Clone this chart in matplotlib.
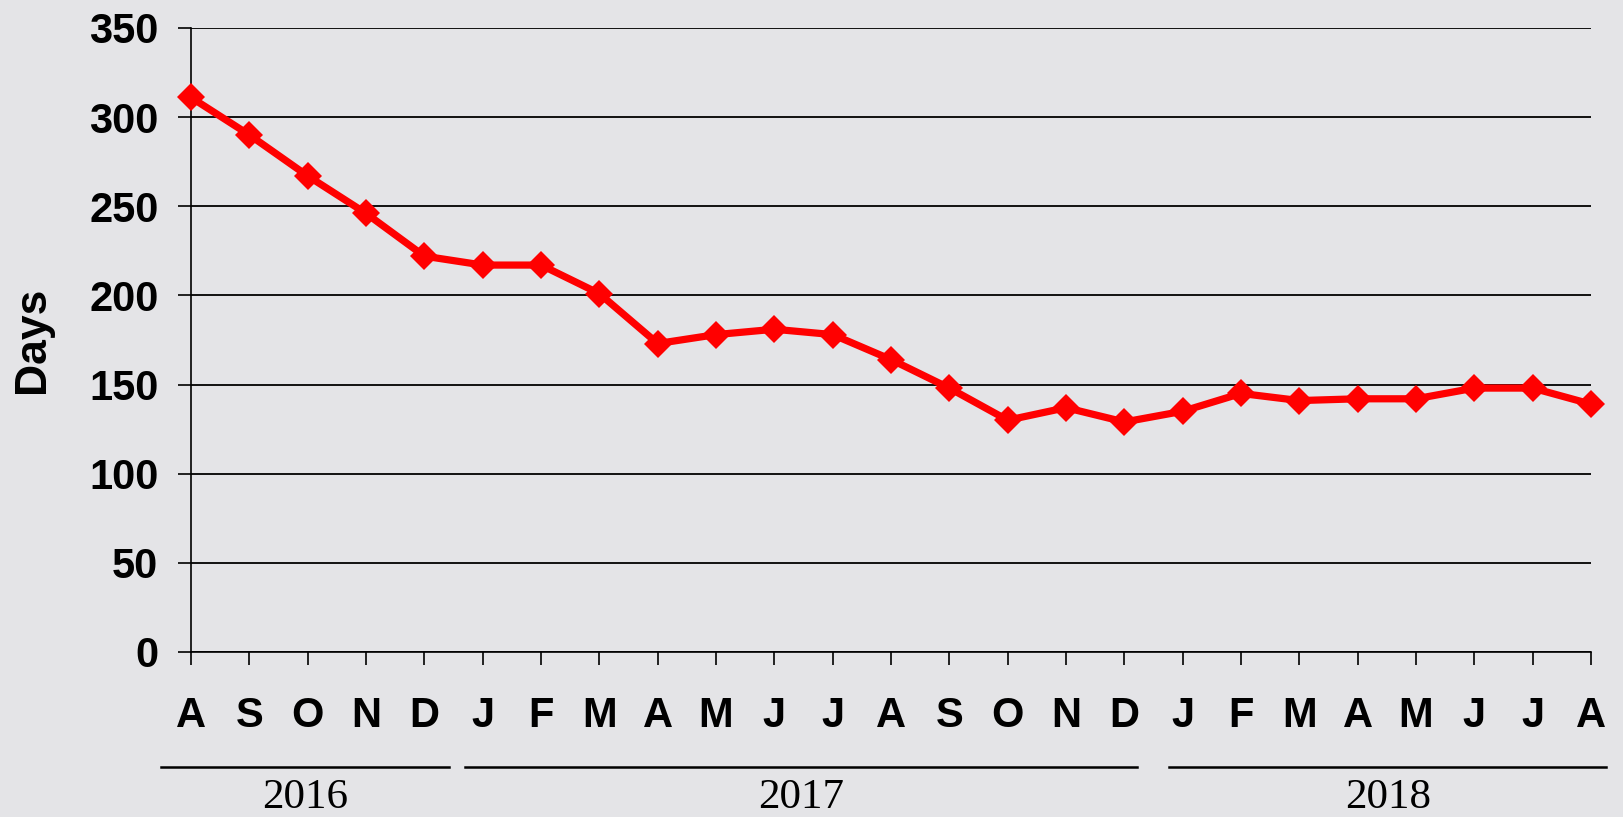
import matplotlib
matplotlib.use('Agg')
import matplotlib.pyplot as plt
from matplotlib.transforms import blended_transform_factory

# monthly values, Aug 2016 .. Aug 2018
months = ['A', 'S', 'O', 'N', 'D', 'J', 'F', 'M', 'A', 'M', 'J', 'J', 'A',
          'S', 'O', 'N', 'D', 'J', 'F', 'M', 'A', 'M', 'J', 'J', 'A']
days = [311, 290, 267, 246, 222, 217, 217, 201, 173, 178, 181, 178, 164,
        148, 130, 137, 129, 135, 145, 141, 142, 142, 148, 148, 139]
y_ticks = [0, 50, 100, 150, 200, 250, 300, 350]
years = ['2016', '2017', '2018']
# span of each year bracket, in month positions
year_spans = [(-0.52, 4.42), (4.7, 16.22), (16.77, 24.26)]

bg = '#e4e4e7'
fig = plt.figure(figsize=(16.23, 8.17), dpi=100, facecolor=bg)
ax = fig.add_axes([0.1177, 0.2020, 0.8626, 0.7638])
ax.set_facecolor(bg)

x = list(range(len(months)))
ax.plot(x, days, color='#ff0000', lw=5.2, marker='D', ms=14.5, mew=0,
        clip_on=False, zorder=5)

ax.set_xlim(0, len(months) - 1)
ax.set_ylim(0, 350)
ax.set_yticks(y_ticks)
ax.set_yticklabels([str(v) for v in y_ticks], family='Liberation Sans',
                   fontsize=30, fontweight='bold')
ax.set_xticks(x)
ax.set_xticklabels(months, family='Liberation Sans', fontsize=30,
                   fontweight='bold')
ax.tick_params(axis='y', length=9.5, width=1.2, pad=14, color='black')
ax.tick_params(axis='x', length=9.5, width=1.2, pad=22, color='black')

ax.yaxis.grid(True, color='black', lw=1.3)
ax.set_axisbelow(True)
for side in ['top', 'right']:
    ax.spines[side].set_visible(False)
for side in ['left', 'bottom']:
    ax.spines[side].set_linewidth(1.2)

fig.text(32 / 1623, 0.584, 'Days', rotation=90, ha='center', va='center',
         family='Liberation Sans', fontsize=32, fontweight='bold')

# year brackets under the month labels
trans = blended_transform_factory(ax.transData, fig.transFigure)
for name, (x0, x1) in zip(years, year_spans):
    ax.plot([x0, x1], [0.0612, 0.0612], color='black', lw=1.8,
            transform=trans, clip_on=False)
    ax.text((x0 + x1) / 2, 0.0115, name, transform=trans, ha='center',
            va='baseline', family='Liberation Serif', fontsize=31)

fig.savefig('out.png', dpi=100, facecolor=bg)
